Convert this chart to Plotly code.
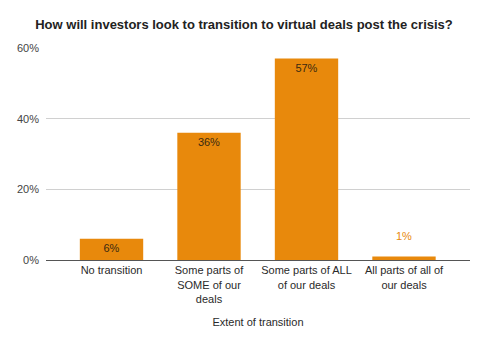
import plotly.graph_objects as go

categories = ["No transition", "Some parts of<br>SOME of our<br>deals",
              "Some parts of ALL<br>of our deals", "All parts of all of<br>our deals"]
values = [6, 36, 57, 1]
labels = ["6%", "36%", "57%", "1%"]
# small bars get their label above the bar in the bar colour
inside = [True, True, True, False]

bar_color = "#e8890c"
inside_text_color = "#3a2a10"
font_family = "Liberation Sans, Arial"

xs = list(range(len(categories)))

fig = go.Figure(go.Bar(
    x=xs,
    y=values,
    text=[t if ins else "" for t, ins in zip(labels, inside)],
    textposition="inside",
    insidetextanchor="end",
    textfont=dict(size=11, color=inside_text_color, family=font_family),
    marker=dict(color=bar_color, line=dict(width=0)),
    width=0.65,
    cliponaxis=False,
))

for x, v, t, ins in zip(xs, values, labels, inside):
    if not ins:
        fig.add_annotation(x=x, y=v, text=t, showarrow=False, yanchor="bottom",
                           yshift=12, font=dict(size=11, color=bar_color, family=font_family))

fig.update_layout(
    width=488, height=344,
    margin=dict(l=46, r=18, t=48, b=84),
    paper_bgcolor="white", plot_bgcolor="white",
    font=dict(family=font_family, size=11, color="#444"),
    title=dict(text="<b>How will investors look to transition to virtual deals post the crisis?</b>",
               x=0.5, xanchor="center", y=0.928, yanchor="middle",
               font=dict(size=13, color="#222")),
    showlegend=False,
)
fig.update_xaxes(
    tickmode="array", tickvals=xs, ticktext=categories,
    range=[-0.672, 3.677], showgrid=False, showline=True, linecolor="#555", linewidth=1,
    ticks="", tickfont=dict(size=11, color="#2a2a2a"),
    title=dict(text="Extent of transition", font=dict(size=11, color="#2a2a2a"), standoff=14),
)
fig.update_yaxes(
    range=[0, 60], tickvals=[0, 20, 40, 60], ticktext=["0%", "20%", "40%", "60%"],
    showgrid=True, gridcolor="#d0d0d0", gridwidth=1, zeroline=False,
    ticks="", tickfont=dict(size=11, color="#444"), ticklabelstandoff=6,
)

fig.write_html("out.html")
